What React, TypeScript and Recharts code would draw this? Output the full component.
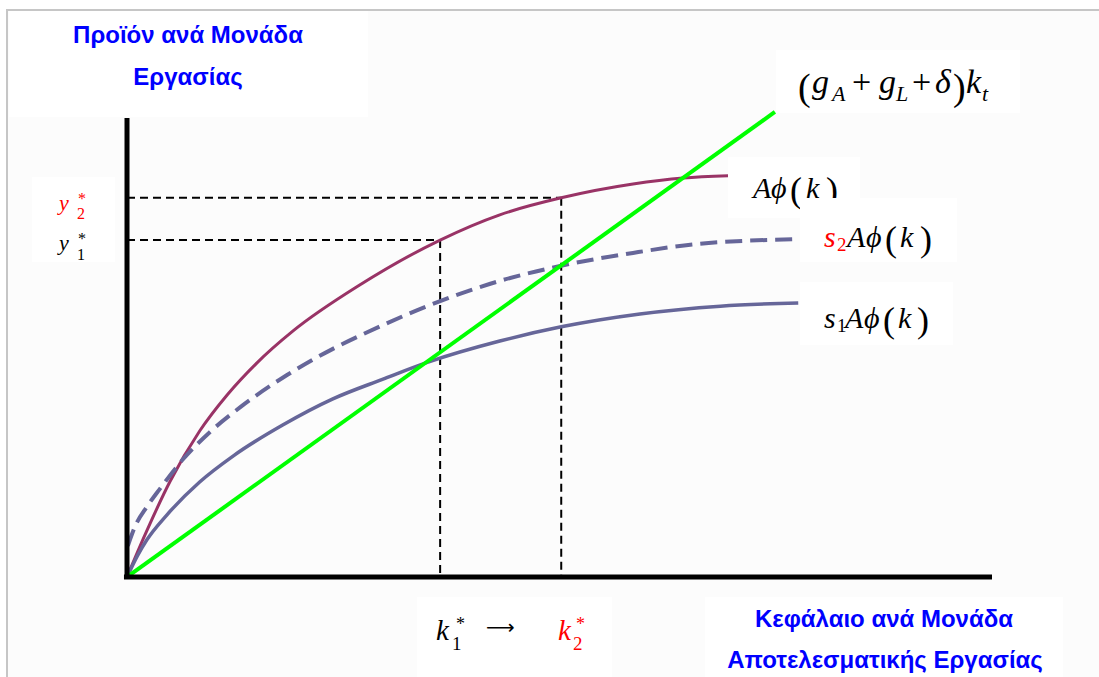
import React from 'react';
import { ComposedChart, Line, XAxis, YAxis, ReferenceLine } from 'recharts';

// Capital per effective worker (k) and output values
const prodK = [0, 1.2, 2.7, 5.0, 8.4, 11.6, 15.0, 19.2, 26.9, 36.2, 43.1, 50.2, 58.5, 64.3, 69.5];
const prodY = [0, 5.4, 11.8, 20.9, 31.8, 39.7, 46.6, 53.6, 63.6, 73.4, 78.9, 82.6, 85.6, 86.9, 87.4];

const s2K = [0.1, 1.0, 2.3, 3.8, 6.5, 9.6, 13.1, 18.5, 23.8, 27.3, 36.2, 43.1, 50.2, 58.5, 66.2, 77.8];
const s2Y = [6.8, 11.3, 15.3, 19.2, 25.7, 31.6, 37.0, 44.0, 49.7, 52.9, 60.1, 64.5, 67.8, 70.6, 72.6, 73.6];

const s1K = [0, 1.2, 2.3, 4.6, 8.4, 12.3, 18.0, 23.8, 29.6, 34.8, 43.1, 50.2, 59.3, 68.6, 77.6];
const s1Y = [0, 4.6, 8.1, 13.5, 20.7, 26.4, 33.1, 38.8, 43.1, 46.8, 51.4, 54.5, 57.3, 59.0, 59.7];

const depK = [0, 74.9];
const depY = [0, 101.3];

const kStar = [36.2, 50.2];
const yStar = [73.4, 82.6];
const axisEnd = [100, 100];

const toPts = (xs: number[], ys: number[]) => xs.map((k, i) => ({ k, v: ys[i] }));

const prodData = toPts(prodK, prodY);
const s2Data = toPts(s2K, s2Y);
const s1Data = toPts(s1K, s1Y);
const depData = toPts(depK, depY);

const SANS = "'Liberation Sans', Arial, sans-serif";
const SERIF = "'Liberation Serif', 'Times New Roman', serif";
const BLUE = '#0000ff';
const RED = '#ff0000';

type Piece = { t: string; x: number; y: number; s: number; it?: boolean; c?: string; f?: string };

const MathText = ({ pieces }: { pieces: Piece[] }) => (
  <text fontFamily={SERIF}>
    {pieces.map((p, i) => (
      <tspan
        key={i}
        x={p.x}
        y={p.y}
        fontSize={p.s}
        fontFamily={p.f || SERIF}
        fontStyle={p.it ? 'italic' : 'normal'}
        fill={p.c || '#000'}
      >
        {p.t}
      </tspan>
    ))}
  </text>
);

const formula: Piece[] = [
  { t: '(', x: 798, y: 100, s: 38 },
  { t: 'g', x: 812, y: 93, s: 34, it: true },
  { t: 'A', x: 832, y: 101, s: 22, it: true },
  { t: '+', x: 852, y: 93, s: 34 },
  { t: 'g', x: 879, y: 93, s: 34, it: true },
  { t: 'L', x: 896, y: 101, s: 22, it: true },
  { t: '+', x: 912, y: 93, s: 34 },
  { t: 'δ', x: 935, y: 93, s: 34, it: true },
  { t: ')', x: 953, y: 100, s: 38 },
  { t: 'k', x: 966, y: 93, s: 34, it: true },
  { t: 't', x: 982, y: 101, s: 22, it: true },
];

const prodLabel: Piece[] = [
  { t: 'A', x: 753, y: 198, s: 30, it: true },
  { t: 'ϕ', x: 771, y: 198, s: 30, it: true },
  { t: '(', x: 790, y: 202, s: 36 },
  { t: 'k', x: 806, y: 198, s: 30, it: true },
  { t: ')', x: 826, y: 202, s: 36 },
];

const s2Label: Piece[] = [
  { t: 's', x: 824, y: 247, s: 30, it: true, c: RED },
  { t: '2', x: 837, y: 251, s: 19, c: RED },
  { t: 'A', x: 847, y: 247, s: 30, it: true },
  { t: 'ϕ', x: 866, y: 247, s: 30, it: true },
  { t: '(', x: 885, y: 251, s: 36 },
  { t: 'k', x: 900, y: 247, s: 30, it: true },
  { t: ')', x: 920, y: 251, s: 36 },
];

const s1Label: Piece[] = [
  { t: 's', x: 824, y: 328, s: 30, it: true },
  { t: '1', x: 837, y: 332, s: 19 },
  { t: 'A', x: 845, y: 328, s: 30, it: true },
  { t: 'ϕ', x: 864, y: 328, s: 30, it: true },
  { t: '(', x: 883, y: 332, s: 36 },
  { t: 'k', x: 898, y: 328, s: 30, it: true },
  { t: ')', x: 917, y: 332, s: 36 },
];

const yLabels: Piece[] = [
  { t: 'y', x: 59, y: 210, s: 22, it: true, c: RED },
  { t: '2', x: 77, y: 219, s: 16, c: RED },
  { t: '*', x: 78, y: 204, s: 16, c: RED },
  { t: 'y', x: 59, y: 250, s: 22, it: true },
  { t: '1', x: 77, y: 260, s: 16 },
  { t: '*', x: 78, y: 244, s: 16 },
];

const kLabels: Piece[] = [
  { t: 'k', x: 436, y: 640, s: 29, it: true },
  { t: '1', x: 452, y: 650, s: 19 },
  { t: '*', x: 456, y: 630, s: 18 },
  { t: '⟶', x: 486, y: 634, s: 20, f: "'DejaVu Sans', sans-serif" },
  { t: 'k', x: 558, y: 640, s: 29, it: true, c: RED },
  { t: '2', x: 573, y: 650, s: 19, c: RED },
  { t: '*', x: 576, y: 630, s: 18, c: RED },
];

export default function App() {
  return (
    <div style={{ position: 'absolute', left: 0, top: 0, width: 1099, height: 677, overflow: 'hidden', background: '#ffffff' }}>
      <div
        style={{
          position: 'absolute',
          left: 6,
          top: 9,
          width: 1200,
          height: 800,
          border: '2px solid #c6c6c6',
          background: '#fcfcfc',
        }}
      />
      <div style={{ position: 'absolute', left: 0, top: 0 }}>
        <ComposedChart width={1099} height={677} margin={{ top: 95, right: 107, bottom: 100, left: 127 }}>
          <XAxis dataKey="k" type="number" domain={[0, 100]} hide allowDataOverflow />
          <YAxis type="number" domain={[0, 105]} hide allowDataOverflow />
          <ReferenceLine segment={[{ x: 0, y: yStar[0] }, { x: kStar[0], y: yStar[0] }]} stroke="#000" strokeWidth={2} strokeDasharray="8 5" />
          <ReferenceLine segment={[{ x: 0, y: yStar[1] }, { x: kStar[1], y: yStar[1] }]} stroke="#000" strokeWidth={2} strokeDasharray="8 5" />
          <ReferenceLine segment={[{ x: kStar[0], y: yStar[0] }, { x: kStar[0], y: 0 }]} stroke="#000" strokeWidth={2} strokeDasharray="8 5" />
          <ReferenceLine segment={[{ x: kStar[1], y: yStar[1] }, { x: kStar[1], y: 0 }]} stroke="#000" strokeWidth={2} strokeDasharray="8 5" />
          <Line data={prodData} dataKey="v" type="monotone" stroke="#993366" strokeWidth={3} dot={false} isAnimationActive={false} />
          <Line data={s2Data} dataKey="v" type="monotone" stroke="#666699" strokeWidth={4} strokeDasharray="17 8" dot={false} isAnimationActive={false} />
          <Line data={s1Data} dataKey="v" type="monotone" stroke="#666699" strokeWidth={3.5} dot={false} isAnimationActive={false} />
          <Line data={depData} dataKey="v" type="linear" stroke="#00ff00" strokeWidth={4} dot={false} isAnimationActive={false} />
          <ReferenceLine ifOverflow="visible" segment={[{ x: -0.35, y: 0 }, { x: axisEnd[0], y: 0 }]} stroke="#000" strokeWidth={5} />
          <ReferenceLine ifOverflow="visible" segment={[{ x: 0, y: 0 }, { x: 0, y: axisEnd[1] }]} stroke="#000" strokeWidth={5} />
        </ComposedChart>
      </div>
      <svg width={1099} height={677} style={{ position: 'absolute', left: 0, top: 0, pointerEvents: 'none' }}>
        <rect x={9} y={11} width={359} height={106} fill="#fff" />
        <rect x={32} y={177} width={83} height={85} fill="#fff" />
        <rect x={776} y={50} width={244} height={63} fill="#fff" />
        <rect x={417} y={597} width={195} height={80} fill="#fff" />
        <rect x={705} y={597} width={358} height={80} fill="#fff" />
        <rect x={728} y={157} width={132} height={61} fill="#fff" />
        <MathText pieces={prodLabel} />
        <rect x={800} y={198} width={157} height={64} fill="#fff" />
        <MathText pieces={s2Label} />
        <rect x={800} y={282} width={153} height={63} fill="#fff" />
        <MathText pieces={s1Label} />
        <MathText pieces={formula} />
        <MathText pieces={yLabels} />
        <MathText pieces={kLabels} />
        <text x={188} y={43} textAnchor="middle" fontFamily={SANS} fontWeight={700} fontSize={24} fill={BLUE}>
          Προϊόν ανά Μονάδα
        </text>
        <text x={188} y={85} textAnchor="middle" fontFamily={SANS} fontWeight={700} fontSize={24} fill={BLUE}>
          Εργασίας
        </text>
        <text x={884} y={627} textAnchor="middle" fontFamily={SANS} fontWeight={700} fontSize={24} fill={BLUE}>
          Κεφάλαιο ανά Μονάδα
        </text>
        <text x={885} y={668} textAnchor="middle" fontFamily={SANS} fontWeight={700} fontSize={24} fill={BLUE}>
          Αποτελεσματικής Εργασίας
        </text>
      </svg>
    </div>
  );
}
